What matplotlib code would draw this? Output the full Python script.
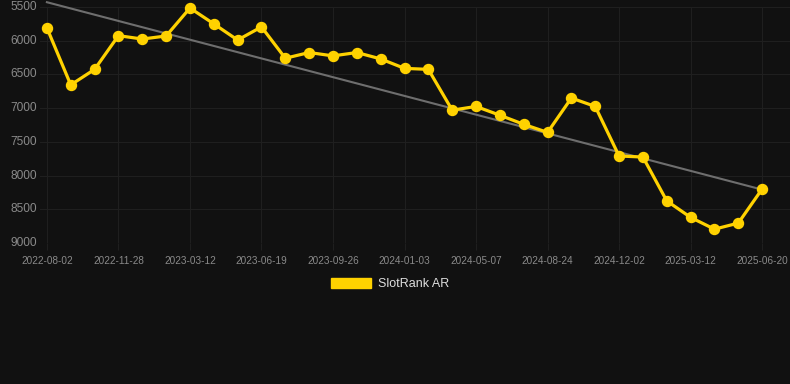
import matplotlib
matplotlib.use("Agg")
import matplotlib.pyplot as plt
import matplotlib.patches as mpatches
import numpy as np

plt.rcParams['font.family'] = ['Liberation Sans', 'DejaVu Sans']

# rank value per sample (31 samples, category axis)
ranks = [5810, 6655, 6425, 5925, 5975, 5930, 5515, 5750, 5990, 5795,
         6260, 6175, 6225, 6175, 6270, 6410, 6425, 7030, 6975, 7105,
         7240, 7360, 6850, 6975, 7710, 7725, 8375, 8620, 8795, 8705,
         8200]
# labels shown on every third sample
tick_labels = ['2022-08-02', '2022-11-28', '2023-03-12', '2023-06-19',
               '2023-09-26', '2024-01-03', '2024-05-07', '2024-08-24',
               '2024-12-02', '2025-03-12', '2025-06-20']
yticks = [5500, 6000, 6500, 7000, 7500, 8000, 8500, 9000]
series_name = 'SlotRank AR'

bg = '#111111'
gold = '#FFD200'
gridc = '#1f1f1f'

x = np.arange(len(ranks))
fit = np.polyfit(x, ranks, 1)
trend = np.polyval(fit, x)

fig = plt.figure(figsize=(7.9, 3.84), dpi=100, facecolor=bg)
ax = fig.add_axes([40/790, 1-243/384, 750/790, 236/384])
ax.set_facecolor(bg)

ax.plot(x, trend, color='#6e6e6e', lw=1.5, zorder=2, clip_on=False)
ax.plot(x, ranks, color=gold, lw=2.3, marker='o', ms=7.2, zorder=3,
        solid_joinstyle='round', clip_on=False)

ax.set_ylim(9000, 5500)
ax.set_yticks(yticks)
ax.set_xlim(-0.29, 31.17)
tick_pos = x[::3]
ax.set_xticks(tick_pos)
ax.set_xticklabels(tick_labels)

ax.grid(True, color=gridc, lw=0.8)
ax.set_axisbelow(True)
for s in ax.spines.values():
    s.set_visible(False)
ax.tick_params(axis='y', length=0, pad=2, labelsize=8.6, labelcolor='#8a8a8a')
ax.tick_params(axis='x', length=5, color=gridc, pad=4, labelsize=7.2,
               labelcolor='#8a8a8a')
for lab in ax.get_yticklabels():
    lab.set_verticalalignment('center')

handle = mpatches.Patch(color=gold, label=series_name)
fig.legend(handles=[handle], loc='center', bbox_to_anchor=(390/790, 1-284/384),
           frameon=False, fontsize=9, labelcolor='#dddddd',
           handlelength=3.2, handleheight=0.9, handletextpad=0.5)

fig.savefig('out.png', dpi=100, facecolor=bg)
